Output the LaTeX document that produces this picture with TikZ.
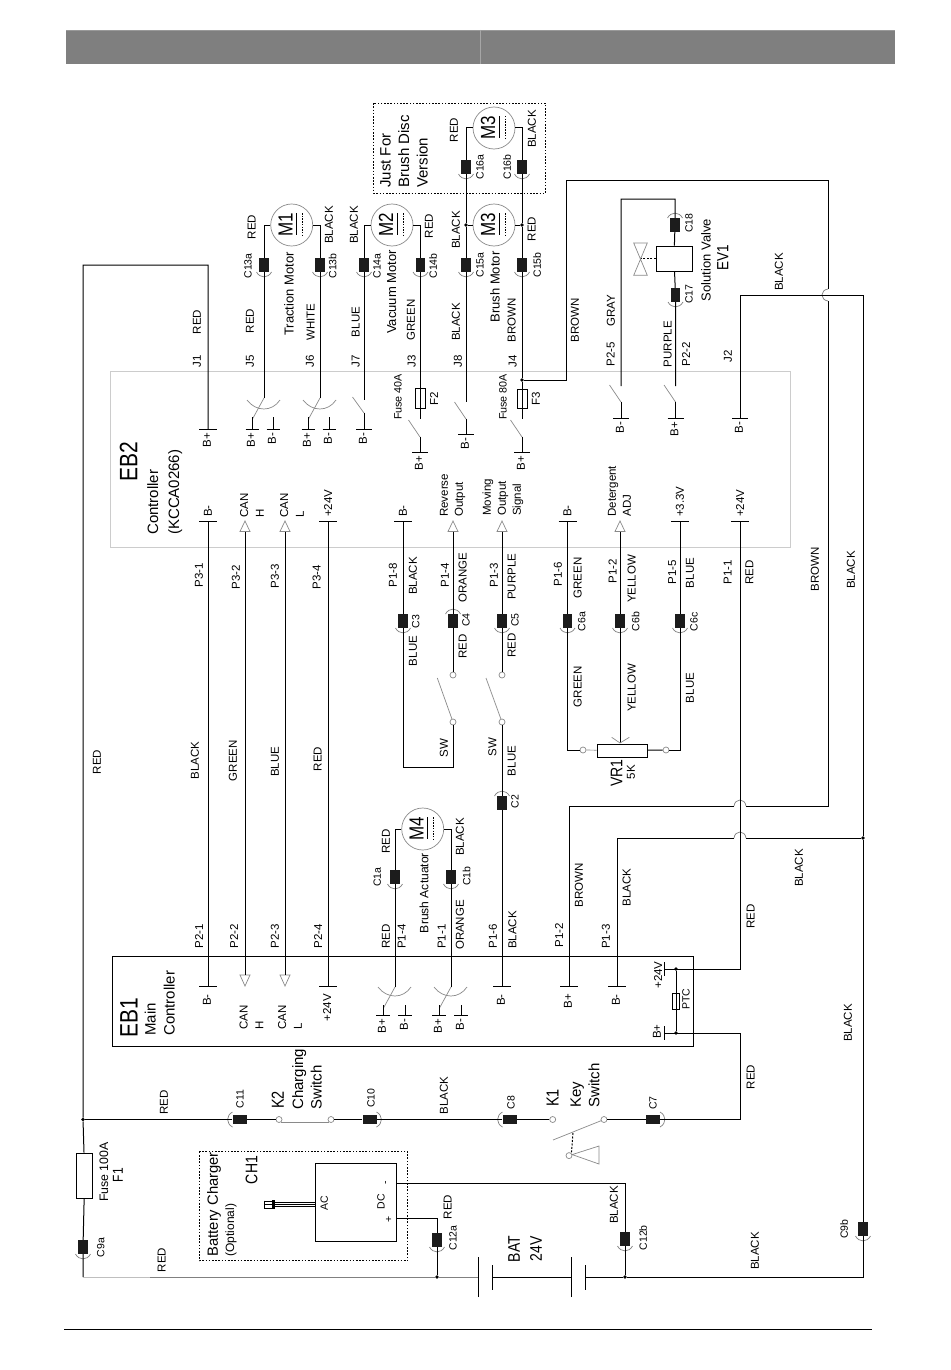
\documentclass[tikz,border=0pt]{standalone}
\usepackage{fontspec}
\setmainfont{Liberation Sans}
\definecolor{conn}{HTML}{1C1C1C}
\definecolor{sw}{HTML}{8A8A8A}
\definecolor{headgray}{HTML}{7F7F7F}
\newcounter{tn}
\tikzset{
  wire/.style={line width=1pt,black},
  gl/.style={line width=.7pt,sw},
  conarc/.style={line width=.7pt,black!50},
  conbox/.style={fill=conn,inner sep=0pt,minimum width=9.5pt,minimum height=14pt},
  lab/.style={rotate=90,inner sep=0pt,align=center},
  bigt/.style={yscale=1.2},
  motor/.style={circle,draw=sw,line width=.7pt,fill=white,inner sep=0pt,minimum size=42pt},
  oterm/.style={circle,draw=sw,line width=.7pt,fill=white,inner sep=0pt,minimum size=6pt},
  jdot/.style={circle,fill=black,inner sep=0pt,minimum size=3.6pt},
  fusebox/.style={rectangle,draw=black,line width=.8pt,inner sep=0pt},
  dotbox/.style={draw=black,line width=.8pt,dash pattern=on 1.6pt off 1.6pt},
}
\newcommand\Txt[6][]{\stepcounter{tn}\node[lab,#1,font=\fontsize{#2}{#3}\selectfont] (t\arabic{tn}) at (#4,#5) {#6};}
\newcommand\WL[3]{\Txt{11.5}{14}{#1}{#2}{#3}}
\newcommand\CL[3]{\Txt{10.5}{12}{#1}{#2}{#3}}
\def\barhw{9}
\newcommand\TDn[5][3.5]{\coordinate (#2) at (#3,#4);
  \draw[wire] ([xshift=-\barhw pt]#2) -- ([xshift=\barhw pt]#2);
  \Txt[anchor=east]{11.5}{14}{#3-1}{#4+#1}{#5}}
\newcommand\TUp[5][4]{\coordinate (#2) at (#3,#4);
  \draw[wire] ([xshift=-\barhw pt]#2) -- ([xshift=\barhw pt]#2);
  \Txt[anchor=west]{11.5}{14}{#3}{#4-#1}{#5}}
\newcommand\TriUp[3]{\coordinate (#1) at (#2,#3+10.5);
  \draw[gl,fill=white] (#2,#3) -- (#2-5,#3+10.5) -- (#2+5,#3+10.5) -- cycle;}
\newcommand\TriDn[3]{\coordinate (#1) at (#2,#3-11);
  \draw[gl,fill=white] (#2,#3) -- (#2-5,#3-11) -- (#2+5,#3-11) -- cycle;}
\newcommand\Conn[4]{\node[conbox,rotate=#4] (#1) at (#2,#3) {};
  \draw[conarc,shift={(#2,#3)},rotate=#4] (-7.5,7) .. controls (-4,13.5) and (4,13.5) .. (7.5,7);}
\newcommand\Motor[4]{\node[motor] (#1) at (#2,#3) {};
  \Txt[bigt]{17}{20}{#2-6}{#3}{#4}
  \draw[line width=.8pt,black] (#2+5,#3-12) -- (#2+5,#3+10);
  \draw[line width=.8pt,black,dash pattern=on 1.5pt off 1.2pt] (#2+11,#3-12) -- (#2+11,#3+10);}
\newcommand\DSw[3]{\draw[gl] (#1-17,#3) .. controls (#1-8,#3+12) and (#1+8,#3+12) .. (#1+16,#3);
  \draw[gl] (#1,#2) -- (#1-11.5,#2+21);}
\newcommand\SSw[3]{\draw[gl] (#1,#3) -- (#1-11.5,#2);}
\begin{document}
\begin{tikzpicture}[x=1pt,y=-1pt]
\useasboundingbox (0,0) rectangle (950,1370);
\fill[white] (0,0) rectangle (950,1370);
% page furniture
\fill[headgray] (66,30) rectangle (895,64);
\draw[line width=.7pt,black!40] (66,30.3) -- (895,30.3);
\draw[line width=.8pt,black!35] (480.3,30) -- (480.3,64);
\draw[line width=1pt,black] (64,1329.5) -- (872,1329.5);
% controller outlines
\draw[line width=1pt,black!20] (110.5,371) rectangle (790,547.5);
\node[draw=black,line width=1pt,inner sep=0pt,minimum width=581pt,minimum height=90pt] (EB1) at (402.5,1001) {};
\draw[dotbox] (373.3,103.3) rectangle (545.7,193);
\draw[dotbox] (199.3,1151.7) rectangle (407.7,1260.7);

% ---------- terminals
\TDn{tJ1}{208}{429}{B+}
\def\barhw{6.5}
\TDn{tJ5p}{252}{429}{B+}
\TDn{tJ5m}{273}{429}{B-}
\TDn{tJ6p}{308}{429}{B+}
\TDn{tJ6m}{329}{429}{B-}
\def\barhw{8}
\TDn{tJ7}{364}{429}{B-}
\TDn{tJ3}{420}{452}{B+}
\TDn{tJ8}{466}{434}{B-}
\TDn{tJ4}{522}{452}{B+}
\TDn{tP25}{621}{418}{B-}
\TDn{tP22}{675.5}{418}{B+}
\TDn{tJ2}{740}{418}{B-}
\def\barhw{9}
\TUp{tP31}{208}{521}{B-}
\TUp{tP34}{328}{521}{+24V}
\TUp{tP18}{403}{521}{B-}
\TUp{tP16}{567.5}{521}{B-}
\TUp{tP15}{680}{521}{+3.3V}
\TUp{tP11}{740}{521}{+24V}
\TriUp{aP32}{245}{521}
\TriUp{aP33}{285}{521}
\TriUp{aP14}{453}{521}
\TriUp{aP13}{502}{521}
\TriUp{aP12}{620}{521}
\TDn[8]{b21}{208}{986}{B-}
\TDn[8]{b24}{328}{986}{+24V}
\TDn[8]{b16}{502}{986}{B-}
\TDn[8]{b12}{569}{986}{B+}
\TDn[8]{b13}{617}{986}{B-}
\TriDn{b22}{245}{986}
\TriDn{b23}{285}{986}
\def\barhw{7}
\TDn{s1p}{383}{1015}{B+}
\TDn{s1m}{405}{1015}{B-}
\TDn{s2p}{439}{1015}{B+}
\TDn{s2m}{461}{1015}{B-}

% ---------- components
\Motor{M1}{291.7}{225}{M1}
\Motor{M2}{392}{225}{M2}
\Motor{M3l}{494}{225}{M3}
\Motor{M3u}{494}{128}{M3}
\Motor{M4}{422.7}{829}{M4}
\Conn{C13a}{264}{265}{0}
\Conn{C13b}{320}{265}{0}
\Conn{C14a}{364}{265}{0}
\Conn{C14b}{420.5}{265}{0}
\Conn{C15a}{466}{265}{0}
\Conn{C15b}{522}{265}{0}
\Conn{C16a}{466}{167}{0}
\Conn{C16b}{522}{167}{0}
\Conn{C18}{675}{225}{180}
\Conn{C17}{675.5}{295}{0}
\Conn{C3}{403}{621}{0}
\Conn{C4}{453}{621}{180}
\Conn{C5}{502}{621}{0}
\Conn{C6a}{567.5}{621}{0}
\Conn{C6b}{620}{621}{0}
\Conn{C6c}{680}{621}{0}
\Conn{C2}{502}{803}{180}
\Conn{C1a}{395}{877}{0}
\Conn{C1b}{451}{877}{0}
\Conn{C7}{653}{1119.5}{90}
\Conn{C8}{509.5}{1119.5}{-90}
\Conn{C10}{369.5}{1119.5}{90}
\Conn{C11}{239.5}{1119.5}{-90}
\Conn{C9a}{83}{1247}{0}
\Conn{C9b}{863}{1229}{0}
\Conn{C12a}{437}{1240}{0}
\Conn{C12b}{625}{1239}{0}
\node[jdot] (jM3L) at (466,225) {};
\node[jdot] (jM3R) at (522,225) {};
\node[jdot] (jBr) at (522,380) {};
\node[jdot] (jR) at (863,838) {};
\node[jdot] (jL) at (83,1119.5) {};
\node[jdot] (jB1) at (437,1277) {};
\node[jdot] (jB2) at (625,1277) {};
\node[jdot] (jP1) at (676,969) {};
\node[jdot] (jP2) at (676,1033) {};
\node[oterm] (o4) at (453,675) {};
\node[oterm] (o4b) at (453,722) {};
\node[oterm] (o5) at (502,675) {};
\node[oterm] (o5b) at (502,722) {};
\node[oterm] (vl) at (583,750) {};
\node[oterm] (vr) at (666,750) {};
\node[fusebox,fill=white,minimum width=50pt,minimum height=13pt] (VR1) at (622,750.5) {};
\node[oterm] (oKr) at (604,1119.5) {};
\node[oterm] (oKl) at (552.7,1119.5) {};
\node[oterm] (oKp) at (569,1155.6) {};
\node[oterm] (oCr) at (331,1119.5) {};
\node[oterm] (oCl) at (279,1119.5) {};
\node[fusebox,minimum width=10pt,minimum height=20pt] (F2) at (420.5,398) {};
\node[fusebox,minimum width=10pt,minimum height=19pt] (F3) at (522,398.5) {};
\node[fusebox,fill=white,minimum width=16pt,minimum height=45pt] (F1) at (84.7,1175.5) {};
\node[fusebox,minimum width=7pt,minimum height=16pt] (PTC) at (675.5,1001) {};
\node[fusebox,fill=white,minimum width=36pt,minimum height=25pt] (EV1) at (674,258.5) {};
\node[draw=black,line width=.9pt,fill=white,inner sep=0pt,minimum width=81.4pt,minimum height=78pt] (CH1) at (356,1202.3) {};

% ---------- switch levers and stubs
\DSw{264}{398}{400}
\DSw{320}{398}{400}
\DSw{395}{987}{987}
\DSw{451}{987}{987}
\draw[wire] (tJ5p) -- ++(0,-12);
\draw[wire] (tJ5m) -- ++(0,-12);
\draw[wire] (tJ6p) -- ++(0,-12);
\draw[wire] (tJ6m) -- ++(0,-12);
\draw[wire] (s1p) -- ++(0,-10);
\draw[wire] (s1m) -- ++(0,-10);
\draw[wire] (s2p) -- ++(0,-10);
\draw[wire] (s2m) -- ++(0,-10);
\SSw{364}{397}{413}
\SSw{420}{420}{437}
\SSw{466}{402}{419}
\SSw{522}{420}{437}
\SSw{621}{385}{402}
\SSw{675.5}{385}{402}
\draw[wire] (tJ7) -- ++(0,-16);
\draw[wire] (tJ3) -- ++(0,-15);
\draw[wire] (tJ8) -- ++(0,-15);
\draw[wire] (tJ4) -- ++(0,-15);
\draw[wire] (tP25) -- ++(0,-16);
\draw[wire] (tP22) -- ++(0,-16);
\draw[gl] (o4b) -- (437.3,678);
\draw[gl] (o5b) -- (486,678);

% ---------- wires
\coordinate (TL) at (83,265);
\coordinate (BL) at (83,1277);
\coordinate (BM) at (150,1277);
\coordinate (BR) at (863,1277);
\draw[wire] (tJ1) |- (TL) -- (jL) -- (F1) -- (C9a) -- (BL);
\coordinate (e5) at (264,398);
\coordinate (e6) at (320,398);
\coordinate (e7) at (364,400);
\coordinate (e3) at (420.5,419);
\coordinate (e8) at (466,402);
\coordinate (e4) at (522,419);
\draw[wire] (M1.west) -| (C13a) -- (e5);
\draw[wire] (M1.east) -| (C13b) -- (e6);
\draw[wire] (M2.west) -| (C14a) -- (e7);
\draw[wire] (M2.east) -| (C14b) -- (e3);
\draw[wire] (M3u.west) -| (C16a) -- (jM3L) -- (C15a) -- (e8);
\draw[wire] (M3l.west) -- (jM3L);
\draw[wire] (M3u.east) -| (C16b) -- (jM3R) -- (C15b) -- (jBr) -- (e4);
\draw[wire] (M3l.east) -- (jM3R);
% brown loop
\coordinate (br2) at (566,380);
\coordinate (br3) at (566,180);
\coordinate (br4) at (828,180);
\coordinate (br5) at (828,289);
\coordinate (br6) at (828,301);
\coordinate (br7) at (828,806);
\coordinate (br8) at (746,806);
\coordinate (br9) at (734,806);
\coordinate (br10) at (569,806);
\draw[wire] (jBr) -- (br2) -- (br3) -- (br4) -- (br5);
\draw[wire] (br6) -- (br7) -- (br8);
\draw[wire] (br9) -- (br10) -- (b12);
\draw[conarc] (br5) .. controls (820,290) and (820,300) .. (br6);
\draw[conarc] (br9) .. controls (735,798) and (745,798) .. (br8);
% black ground
\coordinate (rt) at (863,295);
\coordinate (gn1) at (746,838);
\coordinate (gn2) at (734,838);
\coordinate (gn3) at (617,838);
\draw[wire] (tJ2) |- (rt) -- (jR) -- (C9b) -- (BR) -- (jB2);
\draw[wire] (jR) -- (gn1);
\draw[wire] (gn2) -- (gn3) -- (b13);
\draw[conarc] (gn2) .. controls (735,830) and (745,830) .. (gn1);
% valve
\coordinate (vt1) at (621,199);
\coordinate (vt2) at (675,199);
\coordinate (e25) at (621,386);
\coordinate (e22) at (675.5,386);
\draw[wire] (e25) -- (vt1) -- (vt2) -- (C18) -- (EV1);
\draw[wire] (EV1) -- (C17) -- (e22);
\draw[wire,dash pattern=on 2pt off 1.5pt] (EV1.west) -- (640,258.5);
\draw[gl] (633.7,243) -- (647.3,243) -- (633.7,275.3) -- (647.3,275.3) -- cycle;
% CAN and straight runs
\draw[wire] (tP31) -- (b21);
\draw[wire] (aP32) -- (b22);
\draw[wire] (aP33) -- (b23);
\draw[wire] (tP34) -- (b24);
\coordinate (sb1) at (403,767);
\coordinate (sb2) at (453,767);
\draw[wire] (tP18) -- (C3) -- (sb1) -- (sb2) -- (o4b);
\draw[wire] (aP14) -- (C4) -- (o4);
\draw[wire] (aP13) -- (C5) -- (o5);
\draw[wire] (o5b) -- (C2) -- (b16);
% potentiometer
\coordinate (p1) at (567.5,750);
\coordinate (p2) at (680,750);
\coordinate (wip) at (620,743);
\draw[wire] (tP16) -- (C6a) -- (p1) -- (vl);
\draw[wire] (tP15) -- (C6c) -- (p2) -- (vr);
\draw[wire] (aP12) -- (C6b) -- (wip);
\draw[gl] (vl) -- (VR1);
\draw[wire] (VR1) -- (vr);
\draw[gl] (611.7,737.3) -- (wip) -- (629.3,737.3);
% +24V, PTC
\coordinate (p3) at (740,969);
\coordinate (p4) at (664,969);
\coordinate (p5) at (664,1033);
\coordinate (p6) at (740,1033);
\coordinate (p7) at (740,1119.5);
\draw[wire] (tP11) -- (p3) -- (p4);
\draw[wire] ([yshift=7pt]p4) -- ([yshift=-7pt]p4);
\draw[wire] ([yshift=7pt]p5) -- ([yshift=-7pt]p5);
\draw[wire] (p5) -- (p6) -- (p7) -- (C7) -- (oKr);
\draw[wire] (jP1) -- (jP2);
% actuator
\coordinate (a1) at (395,987);
\coordinate (a2) at (451,987);
\draw[wire] (M4.west) -| (C1a) -- (a1);
\draw[wire] (M4.east) -| (C1b) -- (a2);
% key and charging switches
\draw[wire] (oKl) -- (C8) -- (C10) -- (oCr);
\draw[wire] (oCl) -- (C11) -- (jL);
\draw[gl] (oCl.south east) -- (oCr.south west);
\draw[gl] (oKr) -- (553,1140);
\draw[wire,dash pattern=on 2pt off 1.5pt] (573,1133) -- (oKp.north east);
\draw[gl] (oKp) -- (599,1146) -- (599,1164) -- cycle;
% battery
\coordinate (bat1) at (478.5,1277);
\coordinate (bat2) at (492,1277);
\coordinate (bat3) at (571,1277);
\coordinate (bat4) at (585.5,1277);
\draw[line width=.9pt,black!25] (BL) -- (BM);
\draw[line width=.9pt,black!50] (BM) -- (jB1) -- (bat1);
\draw[wire] (bat2) -- (bat3);
\draw[wire] (bat4) -- (jB2);
\draw[wire] ([yshift=-20pt]bat1) -- ([yshift=20pt]bat1);
\draw[wire] ([yshift=-12.5pt]bat2) -- ([yshift=12.5pt]bat2);
\draw[wire] ([yshift=-20pt]bat3) -- ([yshift=20pt]bat3);
\draw[wire] ([yshift=-12.5pt]bat4) -- ([yshift=12.5pt]bat4);
% charger
\draw[wire] (CH1.east |- 0,1183) -| (C12b) -- (jB2);
\draw[wire] (CH1.east |- 0,1218.7) -| (C12a) -- (jB1);
\draw[line width=.6pt] (275,1202) -- (315.3,1202) (275,1204) -- (315.3,1204) (275,1206) -- (315.3,1206);
\fill (272,1200) rectangle (275,1209);
\draw[line width=.9pt] (264,1201) -- (272,1201) (264,1204.5) -- (272,1204.5) (264,1208) -- (272,1208) (264,1200.5) -- (264,1208.5);

% ---------- titles
\Txt[bigt]{21}{24}{128.7}{462}{EB2}
\Txt[anchor=west,align=left]{15}{21}{164.7}{535}{Controller\\(KCCA0266)}
\Txt[bigt]{21}{24}{129}{1018}{EB1}
\Txt[anchor=west,align=left]{15}{19}{159.7}{1036}{Main\\Controller}
\Txt[anchor=west,align=left]{15}{18.5}{404}{188}{Just For\\Brush Disc\\Version}
\Txt{13}{15}{289}{294}{Traction Motor}
\Txt{13}{15}{391.7}{292}{Vacuum Motor}
\Txt{13}{15}{495}{287}{Brush Motor}
\Txt{12.1}{15}{424}{893}{Brush Actuator}
\Txt{13}{15}{706}{260}{Solution Valve}
\Txt[bigt]{13.5}{16}{722.7}{258}{EV1}
\Txt[bigt]{14}{16}{616.7}{773}{VR1}
\WL{631}{772}{5K}
\Txt{10.7}{12}{398}{397}{Fuse 40A}
\Txt{10.7}{12}{503}{397}{Fuse 80A}
\WL{434}{399}{F2}
\WL{536}{399}{F3}
\Txt{12.3}{14}{104}{1172}{Fuse 100A}
\Txt[bigt]{12}{14}{118}{1175}{F1}
\Txt[bigt]{14.5}{18}{277.7}{1100}{K2}
\Txt[anchor=west,align=left]{15}{18.5}{307}{1110}{Charging\\Switch}
\Txt[bigt]{14.5}{18}{552.7}{1098}{K1}
\Txt[anchor=west,align=left]{15}{18.5}{585}{1108}{Key\\Switch}
\Txt[anchor=west]{14.8}{17}{214}{1256.7}{Battery Charger}
\Txt[anchor=west]{12}{14}{231}{1256.7}{(Optional)}
\Txt[bigt]{14}{16}{251.7}{1170}{CH1}
\CL{324.3}{1203.3}{AC}
\CL{381}{1201.7}{DC}
\CL{389}{1219}{+}
\CL{386.7}{1182.7}{-}
\Txt[bigt]{14}{16}{514}{1249}{BAT}
\Txt[bigt]{14}{16}{536}{1249}{24V}
\Txt{10.5}{12}{686}{999}{PTC}
% terminal names drawn beside horizontal bars
\WL{658}{975}{+24V}
\WL{657}{1031.7}{B+}
% multi-line terminal names
\Txt[anchor=west,align=left]{11.5}{15.7}{252}{518}{CAN\\H}
\Txt[anchor=west,align=left]{11.5}{15.7}{292}{518}{CAN\\L}
\Txt[anchor=west,align=left]{11.5}{15}{452.5}{517}{Reverse\\Output}
\Txt[anchor=west,align=left]{11.5}{15}{503}{516}{Moving\\Output\\Signal}
\Txt[anchor=west,align=left]{11.5}{15}{619.5}{516.7}{Detergent\\ADJ}
\Txt[anchor=west,align=left]{11.5}{15.7}{251.5}{1029.5}{CAN\\H}
\Txt[anchor=west,align=left]{11.5}{15.7}{290}{1029.5}{CAN\\L}

% ---------- pin and colour labels, upper part
\WL{197}{361}{J1} \WL{197}{322}{RED}
\WL{250}{361}{J5} \WL{250}{321}{RED} \WL{251.7}{227}{RED}
\CL{248}{266}{C13a}
\WL{310}{361}{J6} \WL{310.7}{322}{WHITE} \WL{329}{225}{BLACK}
\CL{332.7}{266}{C13b}
\WL{355.7}{361}{J7} \WL{355.7}{322}{BLUE} \WL{354}{225}{BLACK}
\CL{377}{266}{C14a}
\WL{411.7}{361}{J3} \WL{411}{320}{GREEN} \WL{429}{226}{RED}
\CL{433}{266}{C14b}
\WL{458}{361}{J8} \WL{456}{322}{BLACK} \WL{456}{230}{BLACK}
\CL{480}{265}{C15a}
\WL{512.7}{361}{J4} \WL{511.7}{320}{BROWN} \WL{531.7}{229}{RED}
\CL{537}{265}{C15b}
\CL{480}{167}{C16a}
\CL{507}{167}{C16b}
\WL{454}{130}{RED} \WL{532}{129}{BLACK}
\WL{575}{320}{BROWN}
\WL{611}{311}{GRAY} \WL{610.7}{354}{P2-5}
\WL{667.7}{344}{PURPLE} \WL{686}{354}{P2-2}
\CL{689}{223}{C18}
\CL{689}{294}{C17}
\WL{728}{356}{J2} \WL{779}{272}{BLACK}
% middle
\WL{199}{575}{P3-1} \WL{236}{577}{P3-2} \WL{275}{576}{P3-3} \WL{316.7}{577}{P3-4}
\WL{195}{760.7}{BLACK} \WL{233}{760.7}{GREEN} \WL{275}{761.7}{BLUE} \WL{317.7}{759}{RED}
\WL{97}{762}{RED}
\WL{393}{575}{P1-8} \WL{413}{576}{BLACK} \CL{415.7}{621.7}{C3} \WL{413}{651}{BLUE}
\WL{445}{575}{P1-4} \WL{462.7}{577.7}{ORANGE} \CL{466}{620}{C4} \WL{462.7}{646.7}{RED}
\WL{444}{748}{SW} \WL{492.5}{747}{SW}
\WL{494}{575}{P1-3} \WL{511.7}{576.7}{PURPLE} \CL{515}{620}{C5} \WL{511.7}{645.7}{RED}
\WL{511.7}{761}{BLUE} \CL{515}{801.7}{C2}
\WL{558}{574}{P1-6} \WL{577.7}{578}{GREEN} \CL{581.7}{621.7}{C6a} \WL{577.7}{686.7}{GREEN}
\WL{612.7}{571}{P1-2} \WL{631.7}{579}{YELLOW} \CL{635.7}{621.7}{C6b} \WL{631.7}{688}{YELLOW}
\WL{672.3}{572}{P1-5} \WL{690}{573}{BLUE} \CL{694}{621.7}{C6c} \WL{690}{688}{BLUE}
\WL{727.7}{572}{P1-1} \WL{749.3}{572.7}{RED}
\WL{815}{569}{BROWN} \WL{851}{570}{BLACK}
% lower
\WL{199}{936}{P2-1} \WL{234}{936}{P2-2} \WL{275}{936}{P2-3} \WL{318}{936}{P2-4}
\WL{386}{936.7}{RED} \WL{401.7}{936.7}{P1-4} \WL{386}{841.7}{RED}
\CL{377.3}{877}{C1a} \CL{466.7}{876}{C1b}
\WL{441.7}{936.7}{P1-1} \WL{460}{925}{ORANGE} \WL{460}{837}{BLACK}
\WL{493}{936}{P1-6} \WL{512.3}{930}{BLACK}
\WL{559}{935}{P1-2} \WL{579}{885}{BROWN}
\WL{606}{936.7}{P1-3} \WL{626.7}{887.7}{BLACK}
\WL{750.7}{916.7}{RED} \WL{799}{868}{BLACK} \WL{848}{1023}{BLACK} \WL{750.7}{1077}{RED}
\WL{164}{1102.7}{RED} \CL{240}{1099}{C11} \CL{371}{1098}{C10} \WL{444}{1095.7}{BLACK}
\CL{511}{1102.7}{C8} \CL{653}{1103}{C7}
\CL{100.7}{1247.7}{C9a} \WL{161.7}{1260}{RED}
\WL{447.7}{1207}{RED} \CL{453}{1238}{C12a}
\WL{614}{1205}{BLACK} \CL{643}{1237.7}{C12b}
\WL{755}{1251}{BLACK} \CL{844}{1229}{C9b}
\end{tikzpicture}
\end{document}
